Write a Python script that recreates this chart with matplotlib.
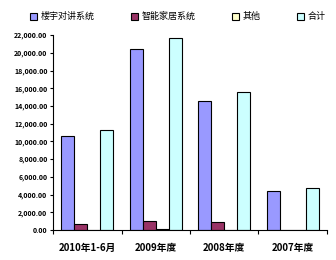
import matplotlib.pyplot as plt
import numpy as np

plt.rcParams['font.family'] = ['Noto Sans CJK SC', 'DejaVu Sans']

categories = ["2010年1-6月", "2009年度", "2008年度", "2007年度"]
series_names = ["楼宇对讲系统", "智能家居系统", "其他", "合计"]
intercom = [10600, 20400, 14600, 4400]
smart_home = [700, 1000, 900, 0]
other = [0, 150, 0, 0]
total = [11300, 21700, 15600, 4700]
yticks = list(range(0, 22001, 2000))

colors = ["#9999FF", "#993366", "#FFFFCC", "#CCFFFF"]

fig = plt.figure(figsize=(3.36, 2.6), dpi=100)
ax = fig.add_axes([0.158, 0.115, 0.815, 0.75])

x = np.arange(len(categories))
w = 0.19
for i, (vals, name) in enumerate(zip([intercom, smart_home, other, total], series_names)):
    ax.bar(x + (i - 1.5) * w, vals, w, color=colors[i], edgecolor="black",
           linewidth=0.8, label=name)

ax.set_xlim(-0.5, len(categories) - 0.5)
ax.set_ylim(0, 22000)
ax.set_yticks(yticks)
ax.set_yticklabels([f"{v:,.2f}" for v in yticks], fontsize=5, fontweight="bold")
ax.set_xticks(x)
ax.set_xticklabels(categories, fontsize=7, fontweight="bold")
ax.tick_params(axis="x", length=0, pad=9)
ax.tick_params(axis="y", length=2, width=0.8, pad=2)
ax.set_xticks(np.arange(len(categories) + 1) - 0.5, minor=True)
ax.tick_params(axis="x", which="minor", length=3, width=0.8)
for s in ["top", "right"]:
    ax.spines[s].set_visible(False)
for s in ["left", "bottom"]:
    ax.spines[s].set_linewidth(0.8)

fig.legend(loc="upper center", bbox_to_anchor=(0.53, 0.985), ncol=4, frameon=False,
           fontsize=6.5, handlelength=0.8, handleheight=0.8, handletextpad=0.4,
           columnspacing=4.0)

fig.savefig("out.png", dpi=100)
